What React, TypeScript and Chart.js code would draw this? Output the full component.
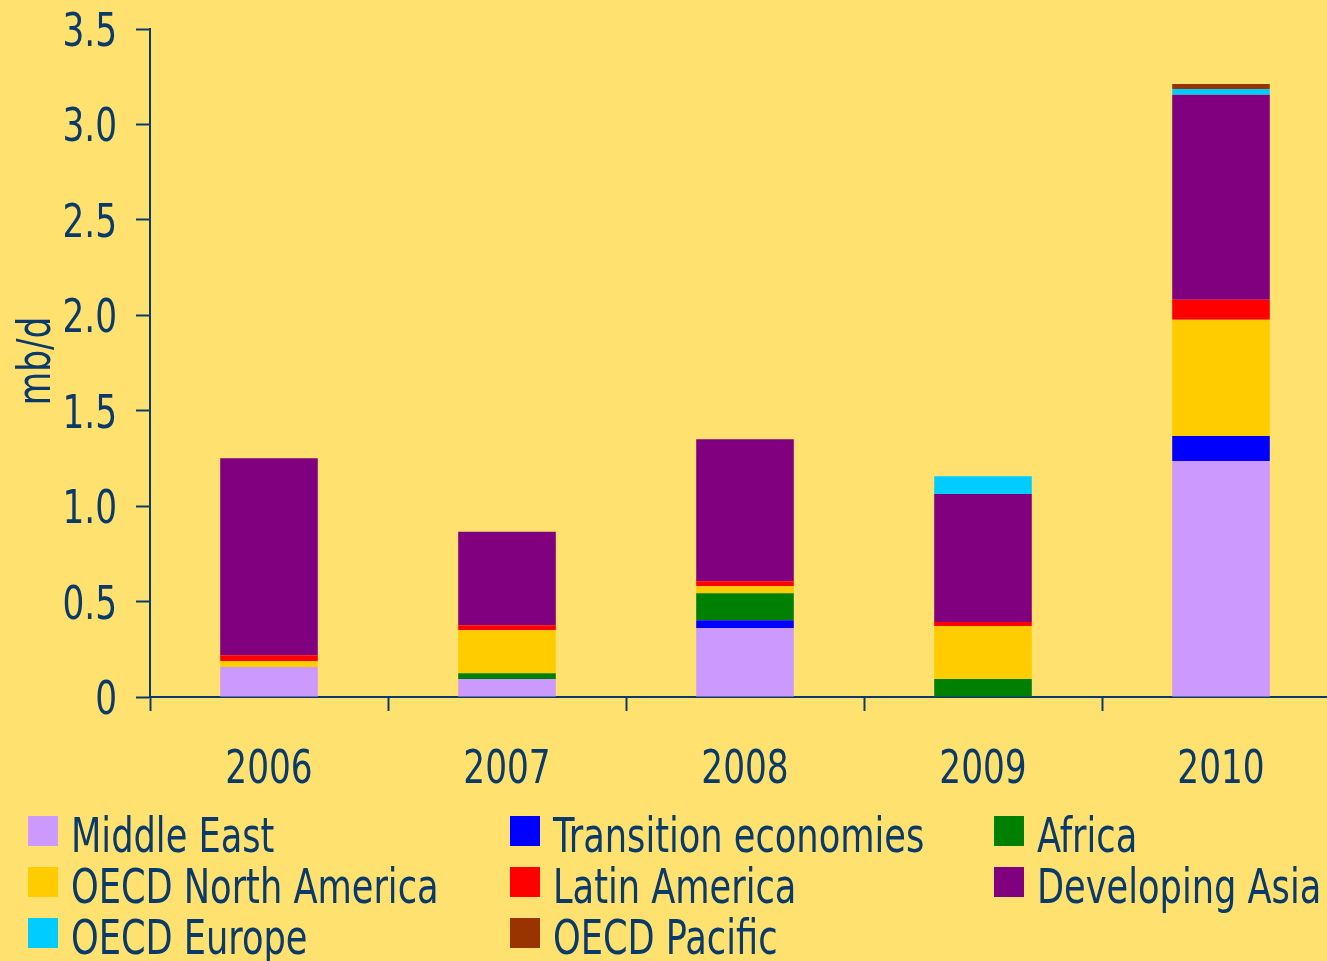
import React, { useEffect, useRef } from "react";
import { Chart, registerables } from "chart.js";

Chart.register(...registerables);

const categories = ["2006", "2007", "2008", "2009", "2010"];

const seriesNames = [
  "Middle East",
  "Transition economies",
  "Africa",
  "OECD North America",
  "Latin America",
  "Developing Asia",
  "OECD Europe",
  "OECD Pacific",
];

const seriesColors = [
  "#CC99FF",
  "#0000FF",
  "#008000",
  "#FFCC00",
  "#FF0000",
  "#800080",
  "#00CCFF",
  "#993300",
];

const middleEast = [0.157, 0.094, 0.36, 0, 1.237];
const transition = [0, 0, 0.042, 0, 0.131];
const africa = [0, 0.031, 0.141, 0.094, 0];
const oecdNorthAmerica = [0.031, 0.225, 0.037, 0.278, 0.608];
const latinAmerica = [0.031, 0.026, 0.026, 0.021, 0.105];
const developingAsia = [1.032, 0.49, 0.744, 0.67, 1.074];
const oecdEurope = [0, 0, 0, 0.094, 0.031];
const oecdPacific = [0, 0, 0, 0, 0.026];

const seriesValues = [
  middleEast,
  transition,
  africa,
  oecdNorthAmerica,
  latinAmerica,
  developingAsia,
  oecdEurope,
  oecdPacific,
];

const yTickLabels = ["0", "0.5", "1.0", "1.5", "2.0", "2.5", "3.0", "3.5"];
const yTitle = "mb/d";

const NAVY = "#0A3A6A";
const BG = "#FFE170";
const FONT = "'DejaVu Sans Condensed', 'DejaVu Sans', sans-serif";
const NUM_SX = 0.83;
const LEGEND_SX = 0.815;

// legend layout: 3 columns, row-major
const legendColX = [28, 510, 994];
const legendRowY = [816, 867, 918];

// draws the axis texts in a condensed face (horizontal compression)
const condensedAxisText = {
  id: "condensedAxisText",
  afterDraw(chart: any) {
    const ctx = chart.ctx as CanvasRenderingContext2D;
    const xs = chart.scales.x;
    const ys = chart.scales.y;
    ctx.save();
    ctx.fillStyle = NAVY;
    ctx.font = `46px ${FONT}`;
    ctx.textBaseline = "alphabetic";

    // y tick labels
    ctx.textAlign = "right";
    ys.ticks.forEach((t: any, i: number) => {
      const py = ys.getPixelForTick(i);
      ctx.save();
      ctx.translate(ys.right - 14 - 19, py + 17);
      ctx.scale(NUM_SX, 1);
      ctx.fillText(String(t.label), 0, 0);
      ctx.restore();
    });

    // x tick labels
    ctx.textAlign = "center";
    xs.ticks.forEach((t: any, i: number) => {
      const px = xs.getPixelForTick(i);
      ctx.save();
      ctx.translate(px, xs.top + 86);
      ctx.scale(NUM_SX, 1);
      ctx.fillText(String(categories[i]), 0, 0);
      ctx.restore();
    });

    // y title
    ctx.save();
    ctx.translate(50, (chart.chartArea.top + chart.chartArea.bottom) / 2 - 2);
    ctx.rotate(-Math.PI / 2);
    ctx.scale(NUM_SX, 1);
    ctx.textAlign = "center";
    ctx.fillText(yTitle, 0, 0);
    ctx.restore();

    ctx.restore();
  },
};

export default function App() {
  const canvasRef = useRef<HTMLCanvasElement | null>(null);

  useEffect(() => {
    document.body.style.margin = "0";
    const ctx = canvasRef.current;
    if (!ctx) return;
    const chart = new Chart(ctx, {
      type: "bar",
      data: {
        labels: categories,
        datasets: seriesNames.map((name, i) => ({
          label: name,
          data: seriesValues[i],
          backgroundColor: seriesColors[i],
          borderWidth: 0,
          categoryPercentage: 1,
          barPercentage: 0.41,
        })),
      },
      options: {
        animation: false,
        responsive: false,
        devicePixelRatio: 1,
        layout: { padding: { top: 29, right: 20, left: 0, bottom: 0 } },
        plugins: {
          legend: { display: false },
          tooltip: { enabled: false },
        },
        scales: {
          x: {
            stacked: true,
            grid: {
              display: true,
              drawOnChartArea: false,
              drawTicks: true,
              tickLength: 14,
              tickWidth: 2,
              tickColor: NAVY,
              offset: true,
            },
            border: { display: true, color: NAVY, width: 2 },
            ticks: { display: false },
            afterFit: (scale: any) => {
              scale.height = 961 - 697;
            },
          },
          y: {
            stacked: true,
            min: 0,
            max: 3.5,
            grid: {
              display: true,
              drawOnChartArea: false,
              drawTicks: true,
              tickLength: 14,
              tickWidth: 2,
              tickColor: NAVY,
            },
            border: { display: true, color: NAVY, width: 2 },
            ticks: {
              display: false,
              stepSize: 0.5,
              callback: (v: any) => {
                const idx = Math.round(Number(v) / 0.5);
                return yTickLabels[idx] ?? String(v);
              },
            },
            afterFit: (scale: any) => {
              scale.width = 150;
            },
          },
        },
      },
      plugins: [condensedAxisText],
    });
    return () => {
      chart.destroy();
    };
  }, []);

  return (
    <div
      style={{
        position: "fixed",
        left: 0,
        top: 0,
        width: 1327,
        height: 961,
        overflow: "hidden",
        background: BG,
        fontFamily: FONT,
      }}
    >
      <canvas
        ref={canvasRef}
        width={1360}
        height={961}
        style={{ position: "absolute", left: 0, top: 0, width: 1360, height: 961 }}
      />
      {seriesNames.map((name, i) => {
        const col = i % 3;
        const row = Math.floor(i / 3);
        const x = legendColX[col];
        const y = legendRowY[row];
        return (
          <React.Fragment key={name}>
            <div
              style={{
                position: "absolute",
                left: x,
                top: y,
                width: 30,
                height: 30,
                background: seriesColors[i],
              }}
            />
            <div
              style={{
                position: "absolute",
                left: x + 43,
                top: y - 5,
                fontSize: 48,
                lineHeight: "48px",
                color: NAVY,
                whiteSpace: "nowrap",
                transform: `scaleX(${LEGEND_SX})`,
                transformOrigin: "left top",
              }}
            >
              {name}
            </div>
          </React.Fragment>
        );
      })}
    </div>
  );
}
